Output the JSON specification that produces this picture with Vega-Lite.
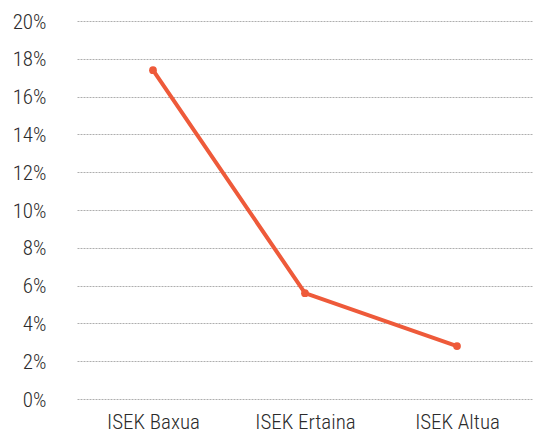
{
  "$schema": "https://vega.github.io/schema/vega-lite/v6.json",
  "width": 456,
  "height": 378,
  "autosize": {"type": "none"},
  "padding": {"left": 77, "top": 21, "right": 0, "bottom": 34},
  "background": "white",
  "config": {
    "view": {"stroke": null},
    "font": "Roboto Condensed, DejaVu Sans Condensed, sans-serif"
  },
  "data": {
    "values": [
      {"maila": "ISEK Baxua", "balioa": 0.174},
      {"maila": "ISEK Ertaina", "balioa": 0.056},
      {"maila": "ISEK Altua", "balioa": 0.028}
    ]
  },
  "mark": {"type": "line", "color": "#EE5A3A", "strokeWidth": 4, "point": {"filled": true, "size": 60, "color": "#EE5A3A"}},
  "encoding": {
    "x": {
      "field": "maila",
      "type": "nominal",
      "sort": null,
      "scale": {"type": "point", "padding": 0.5},
      "axis": {
        "title": null,
        "labelAngle": 0,
        "domain": false,
        "ticks": false,
        "tickSize": 0,
        "grid": false,
        "labelFont": "Roboto Condensed, DejaVu Sans Condensed, sans-serif",
        "labelFontSize": 21,
        "labelFontWeight": 300,
        "labelColor": "#2b2b2b",
        "labelPadding": 12
      }
    },
    "y": {
      "field": "balioa",
      "type": "quantitative",
      "scale": {"domain": [0, 0.2], "nice": false, "zero": true},
      "axis": {
        "title": null,
        "format": ".0%",
        "values": [0, 0.02, 0.04, 0.06, 0.08, 0.1, 0.12, 0.14, 0.16, 0.18, 0.2],
        "domain": false,
        "ticks": false,
        "tickSize": 0,
        "grid": true,
        "gridColor": "#999999",
        "gridDash": [2, 1],
        "gridWidth": 0.8,
        "labelFont": "Roboto Condensed, DejaVu Sans Condensed, sans-serif",
        "labelFontSize": 21,
        "labelFontWeight": 300,
        "labelColor": "#2b2b2b",
        "labelPadding": 31,
        "labelOffset": 1
      }
    }
  }
}
